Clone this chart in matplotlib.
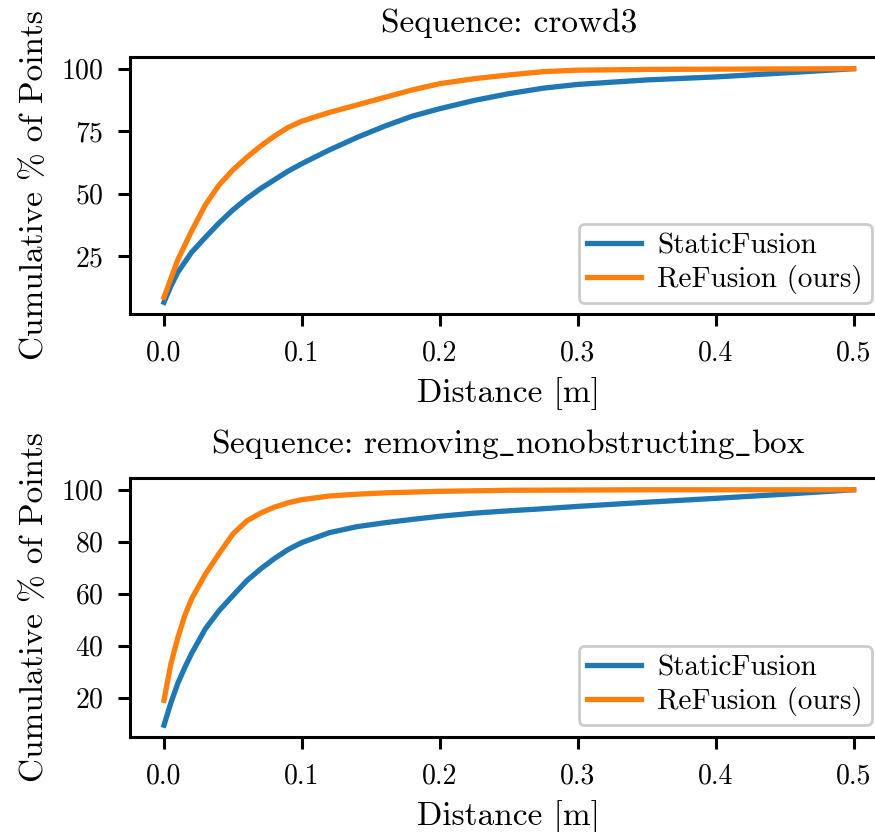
import matplotlib
matplotlib.use("Agg")
import matplotlib.pyplot as plt

# ---- data ----
crowd3_x = [0, 0.005, 0.01, 0.02, 0.03, 0.04, 0.05, 0.06, 0.07, 0.08, 0.09, 0.10, 0.12,
            0.14, 0.16, 0.18, 0.20, 0.225, 0.25, 0.275, 0.30, 0.35, 0.40, 0.45, 0.50]
crowd3_static = [6.5, 13, 18.5, 26.5, 32.5, 38.3, 43.5, 48, 52, 55.5, 59, 62, 67.5,
                 72.5, 77, 81, 84, 87.3, 90, 92.2, 93.7, 95.5, 96.7, 98.3, 100]
crowd3_refusion = [8.5, 16, 23.5, 35, 45.5, 53.5, 59.5, 64.5, 69, 73, 76.5, 79, 82.5,
                   85.5, 88.5, 91.5, 94, 96, 97.5, 98.8, 99.4, 99.7, 99.8, 99.9, 100]

box_x = [0, 0.005, 0.01, 0.015, 0.02, 0.03, 0.04, 0.05, 0.06, 0.07, 0.08, 0.09, 0.10,
         0.12, 0.14, 0.16, 0.18, 0.20, 0.225, 0.25, 0.275, 0.30, 0.35, 0.40, 0.45, 0.50]
box_static = [9.4, 18, 25.5, 31.5, 37, 46.5, 53.5, 59.3, 65, 69.5, 73.5, 77, 79.7,
              83.5, 85.8, 87.3, 88.6, 89.8, 91.0, 91.9, 92.7, 93.6, 95.2, 96.7, 98.3, 100]
box_refusion = [19, 33, 43, 51.5, 58, 67.5, 75.5, 83, 88, 91, 93.3, 95, 96.2,
                97.6, 98.3, 98.8, 99.1, 99.4, 99.6, 99.8, 99.85, 99.9, 100, 100, 100, 100]

titles = ["Sequence: crowd3", "Sequence: removing_nonobstructing_box"]
series_labels = ["StaticFusion", "ReFusion (ours)"]
yticks_top = [25, 50, 75, 100]
yticks_bottom = [20, 40, 60, 80, 100]
xticks = [0.0, 0.1, 0.2, 0.3, 0.4, 0.5]
xlabel = "Distance [m]"
ylabel = "Cumulative % of Points"
colors = ["#1f77b4", "#ff7f0e"]

plt.rcParams["font.family"] = ["cmr10", "DejaVu Serif"]
plt.rcParams["axes.formatter.use_mathtext"] = True
plt.rcParams["mathtext.fontset"] = "cm"

fig = plt.figure(figsize=(8.75, 8.32), dpi=100)
positions = [[0.148, 0.6226, 0.867, 0.3089], [0.148, 0.1142, 0.867, 0.3113]]
legend_anchor = [(0.9783, 0.043), (0.9783, 0.046)]
panels = [
    (crowd3_x, crowd3_static, crowd3_refusion, yticks_top),
    (box_x, box_static, box_refusion, yticks_bottom),
]


def tex_title(s):
    # render underscores as a low line via mathtext
    return s.replace("_", r"$\_$")


for i, (xs, s1, s2, yt) in enumerate(panels):
    ax = fig.add_axes(positions[i])
    ax.plot(xs, s1, color=colors[0], lw=3.8, label=series_labels[0])
    ax.plot(xs, s2, color=colors[1], lw=3.8, label=series_labels[1])
    ax.set_xticks(xticks)
    ax.set_xticklabels([f"{v:.1f}" for v in xticks])
    ax.set_yticks(yt)
    ax.set_title(tex_title(titles[i]), fontsize=24, pad=18)
    ax.set_xlabel(xlabel, fontsize=24, labelpad=8)
    ax.set_ylabel(ylabel, fontsize=24, labelpad=9)
    ax.tick_params(axis="both", labelsize=20, length=8.5, width=2.2, pad=10)
    for sp in ax.spines.values():
        sp.set_linewidth(2.2)
    leg = ax.legend(loc="lower right", fontsize=21, handlelength=1.85,
                    frameon=True, fancybox=True, borderpad=0.3,
                    labelspacing=0.2, handletextpad=0.55,
                    borderaxespad=0.0,
                    bbox_to_anchor=legend_anchor[i])
    leg.get_frame().set_edgecolor("#cccccc")
    leg.get_frame().set_linewidth(2)
    leg.get_frame().set_alpha(1.0)

fig.savefig("out.png", dpi=100)
